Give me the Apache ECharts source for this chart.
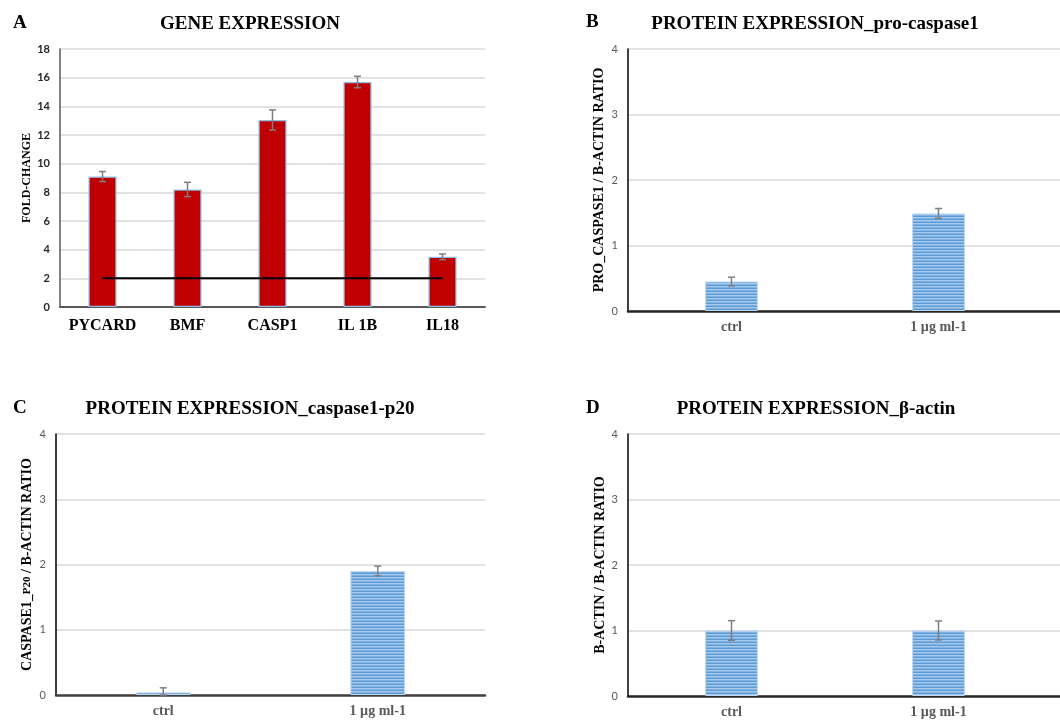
<!DOCTYPE html>
<html>
<head>
<meta charset="utf-8">
<script src="https://cdn.jsdelivr.net/npm/echarts@6/dist/echarts.min.js"></script>
<style>
html,body{margin:0;padding:0;background:#fff;}
#c{width:1060px;height:721px;}
</style>
</head>
<body>
<div id="c"></div>
<script>
// ---- data ----
const geneCategories = ['PYCARD', 'BMF', 'CASP1', 'IL 1B', 'IL18'];
const geneValues = [9.1, 8.2, 13.05, 15.7, 3.5];
const geneErrors = [0.35, 0.5, 0.7, 0.4, 0.2];
const geneThreshold = [2, 2, 2, 2, 2];

const proteinCategories = ['ctrl', '1 µg ml-1'];
const proCasp1Values = [0.45, 1.49];
const proCasp1Errors = [0.066, 0.075];
const p20Values = [0.04, 1.9];
const p20Errors = [0.07, 0.075];
const actinValues = [1.0, 1.0];
const actinErrors = [0.15, 0.145];

const geneTicks = [0, 2, 4, 6, 8, 10, 12, 14, 16, 18];
const ratioTicks = [0, 1, 2, 3, 4];

// ---- styles ----
const SERIF = '"Liberation Serif", "Times New Roman", serif';
const SANS = 'Lato, "Open Sans", sans-serif';

function stripePattern() {
  const cv = document.createElement('canvas');
  cv.width = 4; cv.height = 3;
  const ctx = cv.getContext('2d');
  const rows = ['#5b9bd5', '#a8c9eb', '#7fb1e2'];
  rows.forEach((c, i) => { ctx.fillStyle = c; ctx.fillRect(0, i, 4, 1); });
  return { image: cv, repeat: 'repeat' };
}
const stripes = stripePattern();

function errSeries(gi, vals, errs) {
  return {
    type: 'custom', xAxisIndex: gi, yAxisIndex: gi, z: 5,
    data: vals.map((v, i) => [i, v, errs[i]]),
    renderItem: function (params, api) {
      const i = api.value(0), v = api.value(1), e = api.value(2);
      const top = api.coord([i, v + e]);
      const bot = api.coord([i, Math.max(0, v - e)]);
      const hw = 3.5;
      const st = { stroke: '#7f7f7f', lineWidth: 1.5 };
      return {
        type: 'group', children: [
          { type: 'line', shape: { x1: top[0], y1: top[1], x2: bot[0], y2: bot[1] }, style: st },
          { type: 'line', shape: { x1: top[0] - hw, y1: top[1], x2: top[0] + hw, y2: top[1] }, style: st },
          { type: 'line', shape: { x1: bot[0] - hw, y1: bot[1], x2: bot[0] + hw, y2: bot[1] }, style: st }
        ]
      };
    }
  };
}

const grids = [
  { left: 60, top: 49, right: 575, bottom: 414 },   // A
  { left: 628, top: 49, right: 18, bottom: 410 },   // B
  { left: 56, top: 434, right: 575, bottom: 26 },   // C
  { left: 628, top: 434, right: 18, bottom: 25 },   // D
  { left: 628, top: 49, right: 0, bottom: 410 },    // B aux (gridlines + baseline)
  { left: 628, top: 434, right: 0, bottom: 25 }     // D aux
];

function catAxis(gi, cats, opts) {
  return Object.assign({
    gridIndex: gi, type: 'category', data: cats,
    axisTick: { show: false },
    axisLine: { show: false },
    axisLabel: { interval: 0, fontFamily: SERIF, fontWeight: 'bold', fontSize: 14, color: '#595959', margin: 9 }
  }, opts || {});
}
function ratioAxis(gi, name, gap, nameObj) {
  return {
    gridIndex: gi, type: 'value', min: 0, max: 4, interval: 1,
    name: name, nameLocation: 'middle', nameGap: gap,
    nameTextStyle: Object.assign({ fontFamily: SERIF, fontWeight: 'bold', fontSize: 14, color: '#000' }, nameObj || {}),
    axisLine: { show: true, lineStyle: { color: '#000', width: 1.5 } },
    axisTick: { show: false },
    splitLine: { show: gi === 2, lineStyle: { color: '#d9d9d9', width: 1.5 } },
    axisLabel: { fontFamily: SANS, fontSize: 11, color: '#595959', margin: 10,
      formatter: v => ratioTicks.includes(v) ? String(v) : '' }
  };
}

const titleStyle = { fontFamily: SERIF, fontWeight: 'bold', fontSize: 19, color: '#000' };
const letterStyle = { fontFamily: SERIF, fontWeight: 'bold', fontSize: 19, color: '#000' };

const option = {
  animation: false,
  backgroundColor: '#fff',
  title: [
    { text: 'GENE EXPRESSION', left: 250, top: 15, padding: 0, textAlign: 'center', textStyle: titleStyle },
    { text: 'PROTEIN EXPRESSION_pro-caspase1', left: 815, top: 15, padding: 0, textAlign: 'center', textStyle: titleStyle },
    { text: 'PROTEIN EXPRESSION_caspase1-p20', left: 250, top: 400, padding: 0, textAlign: 'center', textStyle: titleStyle },
    { text: 'PROTEIN EXPRESSION_β-actin', left: 816, top: 400, padding: 0, textAlign: 'center', textStyle: titleStyle },
    { text: 'A', left: 13, top: 14, padding: 0, textStyle: letterStyle },
    { text: 'B', left: 586, top: 13, padding: 0, textStyle: letterStyle },
    { text: 'C', left: 13, top: 399, padding: 0, textStyle: letterStyle },
    { text: 'D', left: 586, top: 399, padding: 0, textStyle: letterStyle }
  ],
  grid: grids,
  xAxis: [
    catAxis(0, geneCategories, {
      axisLine: { show: true, lineStyle: { color: '#595959', width: 2 } },
      axisLabel: { interval: 0, fontFamily: SERIF, fontWeight: 'bold', fontSize: 16, color: '#000', margin: 11 }
    }),
    catAxis(1, proteinCategories),
    catAxis(2, proteinCategories, { axisLine: { show: true, lineStyle: { color: '#404040', width: 2.5 } } }),
    catAxis(3, proteinCategories),
    { gridIndex: 4, type: 'value', min: 0, max: 1, axisLabel: { show: false }, axisTick: { show: false },
      splitLine: { show: false }, axisLine: { show: true, onZero: false, lineStyle: { color: '#262626', width: 2.5 } } },
    { gridIndex: 5, type: 'value', min: 0, max: 1, axisLabel: { show: false }, axisTick: { show: false },
      splitLine: { show: false }, axisLine: { show: true, onZero: false, lineStyle: { color: '#262626', width: 2.5 } } }
  ],
  yAxis: [
    {
      gridIndex: 0, type: 'value', min: 0, max: 18, interval: 2,
      name: 'FOLD-CHANGE', nameLocation: 'middle', nameGap: 27,
      nameTextStyle: { fontFamily: SERIF, fontWeight: 'bold', fontSize: 12, color: '#000' },
      axisLine: { show: true, lineStyle: { color: '#595959', width: 1.5 } },
      axisTick: { show: false },
      splitLine: { show: true, lineStyle: { color: '#d9d9d9', width: 1.5 } },
      axisLabel: { fontFamily: SANS, fontWeight: 'bold', fontSize: 11, color: '#262626', margin: 10,
        formatter: v => geneTicks.includes(v) ? String(v) : '' }
    },
    ratioAxis(1, 'PRO_CASPASE1 / B-ACTIN RATIO', 22),
    ratioAxis(2, '{a|CASPASE1_}{b|P20}{a| / B-ACTIN RATIO}', 22, {
      rich: {
        a: { fontFamily: SERIF, fontWeight: 'bold', fontSize: 14, color: '#000' },
        b: { fontFamily: SERIF, fontWeight: 'bold', fontSize: 11, color: '#000' }
      }
    }),
    ratioAxis(3, 'B-ACTIN / B-ACTIN RATIO', 21),
    { gridIndex: 4, type: 'value', min: 0, max: 4, interval: 1, axisLine: { show: false },
      axisTick: { show: false }, axisLabel: { show: false },
      splitLine: { show: true, lineStyle: { color: '#d9d9d9', width: 1.5 } } },
    { gridIndex: 5, type: 'value', min: 0, max: 4, interval: 1, axisLine: { show: false },
      axisTick: { show: false }, axisLabel: { show: false },
      splitLine: { show: true, lineStyle: { color: '#d9d9d9', width: 1.5 } } }
  ],
  series: [
    { type: 'bar', xAxisIndex: 0, yAxisIndex: 0, data: geneValues, barWidth: '33%',
      itemStyle: { color: '#c00000', borderColor: '#8fbde6', borderWidth: 1.2 } },
    { type: 'line', xAxisIndex: 0, yAxisIndex: 0, data: geneThreshold, symbol: 'none', z: 4,
      lineStyle: { color: '#000', width: 2 } },
    errSeries(0, geneValues, geneErrors),

    { type: 'bar', xAxisIndex: 1, yAxisIndex: 1, data: proCasp1Values, barWidth: '25.5%',
      itemStyle: { color: stripes, borderColor: '#bdd7ee', borderWidth: 1 } },
    errSeries(1, proCasp1Values, proCasp1Errors),

    { type: 'bar', xAxisIndex: 2, yAxisIndex: 2, data: p20Values, barWidth: '25.5%',
      itemStyle: { color: stripes, borderColor: '#bdd7ee', borderWidth: 1 } },
    errSeries(2, p20Values, p20Errors),

    { type: 'bar', xAxisIndex: 3, yAxisIndex: 3, data: actinValues, barWidth: '25.5%',
      itemStyle: { color: stripes, borderColor: '#bdd7ee', borderWidth: 1 } },
    errSeries(3, actinValues, actinErrors)
  ]
};

const chart = echarts.init(document.getElementById('c'), null, { renderer: 'canvas' });
chart.setOption(option);
</script>
</body>
</html>
